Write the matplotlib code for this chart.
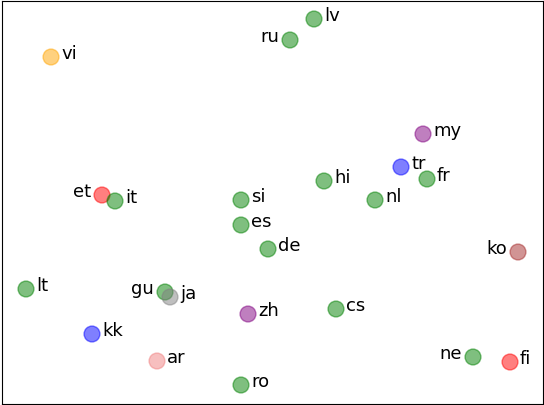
import matplotlib.pyplot as plt

# language embedding positions (pixel-like 2D coordinates)
langs = ["lv", "ru", "vi", "my", "tr", "fr", "hi", "nl", "et", "it", "si", "es",
         "de", "ko", "lt", "gu", "ja", "zh", "cs", "kk", "ar", "ne", "fi", "ro"]
xs = [314, 290, 51, 423, 401, 427, 324, 375, 102, 115, 241, 241,
      268, 518, 26, 165, 170, 248, 336, 92, 157, 473, 510, 241]
ys = [20, 41, 58, 135, 168, 180, 182, 201, 196, 202, 201, 226,
      250, 253, 290, 293, 298, 315, 310, 335, 362, 358, 363, 386]
colors = ["green", "green", "orange", "purple", "blue", "green", "green", "green",
          "red", "green", "green", "green", "green", "brown", "green", "green",
          "gray", "purple", "green", "blue", "lightcoral", "green", "red", "green"]
left_labels = {"ru", "et", "ko", "gu", "ne"}

fig = plt.figure(figsize=(5.44, 4.06), dpi=100)
ax = fig.add_axes([2 / 544, 1 / 406, 541 / 544, 403 / 406])
ax.scatter(xs, ys, s=130, c=colors, alpha=0.5, zorder=2)
for name, x, y in zip(langs, xs, ys):
    if name in left_labels:
        ax.text(x - 11, y - 4, name, fontsize=13, ha="right", va="center")
    else:
        ax.text(x + 10, y - 4, name, fontsize=13, ha="left", va="center")
ax.set_xlim(2, 543)
ax.set_ylim(405, 2)
ax.set_xticks([])
ax.set_yticks([])
fig.savefig("out.png")
